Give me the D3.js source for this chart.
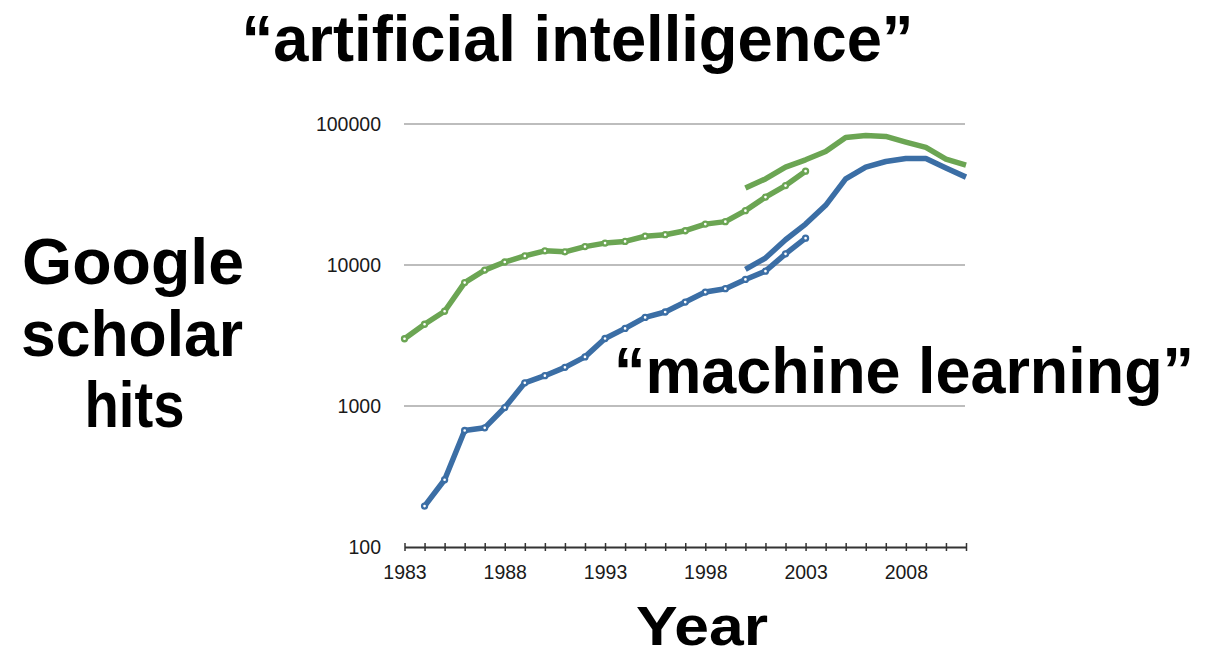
<!DOCTYPE html>
<html>
<head>
<meta charset="utf-8">
<script src="https://cdn.jsdelivr.net/npm/d3@7"></script>
<style>
  html, body { margin: 0; padding: 0; background: #fff; }
  svg { display: block; }
  text { font-family: "Liberation Sans", Arial, Helvetica, sans-serif; }
</style>
</head>
<body>
<svg id="chart" width="1219" height="658"></svg>
<script>
// ---- data ----
const aiOldYears = d3.range(1983, 2004);   // 1983..2003
const aiOld = [3000, 3800, 4700, 7500, 9200, 10500, 11600, 12600, 12400, 13500, 14300,
               14700, 16000, 16400, 17500, 19500, 20300, 24300, 30300, 36600, 46300];
const mlOldYears = d3.range(1984, 2004);   // 1984..2003
const mlOld = [195, 300, 670, 700, 975, 1460, 1640, 1880, 2230, 3010, 3550,
               4250, 4640, 5460, 6430, 6790, 7900, 9040, 12000, 15500];
const newYears = d3.range(2000, 2012);     // 2000..2011
const aiNew = [35100, 40800, 49500, 55700, 63800, 80300, 83000, 81600, 74500, 68200, 56400, 51100];
const mlNew = [9310, 11200, 15100, 19500, 26500, 40800, 49500, 54200, 56900, 56900, 48700, 42000];
const yTicks = [100, 1000, 10000, 100000];
const xTickLabels = [1983, 1988, 1993, 1998, 2003, 2008];
const xTickYears = d3.range(1983, 2012);

const GREEN = "#6ba553", BLUE = "#3b6ea5";

const svg = d3.select("#chart");
const x = d3.scaleLinear().domain([1983, 2011]).range([404.5, 966]);
const y = d3.scaleLog().domain([100, 100000]).range([547, 124]);

// gridlines
svg.append("g").selectAll("line").data(yTicks.filter(v => v > 100)).join("line")
  .attr("x1", 404).attr("x2", 965)
  .attr("y1", d => y(d)).attr("y2", d => y(d))
  .attr("stroke", "#bdbdbd").attr("stroke-width", 2);

// y tick labels
svg.append("g").selectAll("text").data(yTicks).join("text")
  .attr("x", 381).attr("y", d => y(d) + 7)
  .attr("text-anchor", "end")
  .attr("font-size", 19.5).attr("fill", "#1a1a1a")
  .text(d => d);

// x axis via d3.axisBottom
const xAxis = d3.axisBottom(x)
  .tickValues(xTickYears)
  .tickSize(0)
  .tickFormat(d => xTickLabels.includes(d) ? d : "");
const gx = svg.append("g").attr("transform", "translate(0,547)").call(xAxis);
gx.select(".domain").attr("stroke", "#333").attr("stroke-width", 2);
gx.selectAll(".tick text").attr("font-size", 19.5).attr("fill", "#1a1a1a")
  .attr("font-family", "Liberation Sans, Arial, sans-serif")
  .attr("dy", 0).attr("y", 31.5);
gx.selectAll(".tick").append("line")
  .attr("y1", -4).attr("y2", 4).attr("stroke", "#333").attr("stroke-width", 1.5);

// lines
const line = (years) => d3.line().x((d, i) => x(years[i])).y(d => y(d));

function series(vals, years, color, markers) {
  svg.append("path").datum(vals)
    .attr("d", line(years))
    .attr("fill", "none").attr("stroke", color)
    .attr("stroke-width", 5.5).attr("stroke-linejoin", "round");
  if (markers) {
    svg.append("g").selectAll("circle").data(vals).join("circle")
      .attr("cx", (d, i) => x(years[i])).attr("cy", d => y(d))
      .attr("r", 2.5).attr("fill", "#fff")
      .attr("stroke", color).attr("stroke-width", 2.3);
  }
}
series(aiOld, aiOldYears, GREEN, true);
series(aiNew, newYears, GREEN, false);
series(mlOld, mlOldYears, BLUE, true);
series(mlNew, newYears, BLUE, false);

// big labels
function big(t, cx, by, w, fs) {
  const el = svg.append("text")
    .attr("x", cx).attr("y", by)
    .attr("text-anchor", "middle")
    .attr("font-size", fs || 64).attr("font-weight", "bold").attr("fill", "#000")
    .text(t);
  if (w) el.attr("textLength", w).attr("lengthAdjust", "spacingAndGlyphs");
  return el;
}
big("\u201Cartificial intelligence\u201D", 577.5, 61, 672);
big("\u201Cmachine learning\u201D", 904, 393, 580);
big("Google", 133, 284, 222);
big("scholar", 132, 356, 222);
big("hits", 134.5, 427, 100);
big("Year", 702, 645, 132, 56);
</script>
</body>
</html>
